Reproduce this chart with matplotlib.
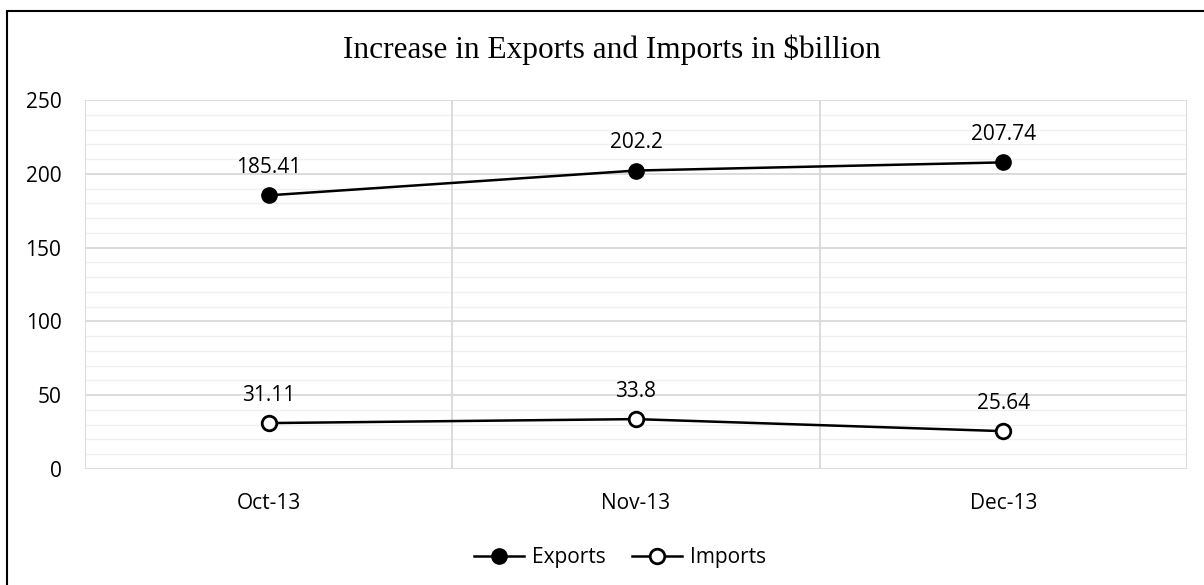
import matplotlib.pyplot as plt
from matplotlib.patches import Rectangle
import numpy as np

months = ['Oct-13', 'Nov-13', 'Dec-13']
exports = [185.41, 202.2, 207.74]
imports = [31.11, 33.8, 25.64]
export_labels = ['185.41', '202.2', '207.74']
import_labels = ['31.11', '33.8', '25.64']

sans = ['Open Sans', 'DejaVu Sans']

fig = plt.figure(figsize=(12.04, 5.85), dpi=100)
ax = fig.add_axes([85 / 1204, 116 / 585, 1102 / 1204, 369 / 585])

# outer chart border (cropped on the right and bottom)
fig.patches.append(Rectangle((7 / 1204, -0.05), 1.2, 1 - 11 / 585 + 0.05,
                             transform=fig.transFigure, fill=False,
                             edgecolor='black', linewidth=1.5))

x = np.arange(len(months))
ax.set_xlim(-0.5, len(months) - 0.5)
ax.set_ylim(0, 250)

# gridlines
for v in np.arange(0, 251, 10):
    major = v % 50 == 0
    ax.axhline(v, color='#D9D9D9' if major else '#F0F0F0',
               linewidth=1.3 if major else 1.0, zorder=0)
for b in np.arange(-0.5, len(months), 1.0):
    ax.axvline(b, color='#D9D9D9', linewidth=1.3, zorder=0)

for s in ax.spines.values():
    s.set_visible(False)

ax.plot(x, exports, color='black', linewidth=1.8, marker='o', markersize=11,
        markerfacecolor='black', markeredgecolor='black', label='Exports', zorder=3)
ax.plot(x, imports, color='black', linewidth=1.8, marker='o', markersize=10.5,
        markerfacecolor='white', markeredgecolor='black', markeredgewidth=2,
        label='Imports', zorder=3)

for xi, v, t in zip(x, exports, export_labels):
    ax.annotate(t, (xi, v), xytext=(0, 20), textcoords='offset points',
                ha='center', va='center', fontsize=15, family=sans)
for xi, v, t in zip(x, imports, import_labels):
    ax.annotate(t, (xi, v), xytext=(0, 20), textcoords='offset points',
                ha='center', va='center', fontsize=15, family=sans)

ax.set_xticks(x)
ax.set_xticklabels(months, fontsize=15, family=sans)
ax.set_yticks(np.arange(0, 251, 50))
ax.set_yticklabels([str(v) for v in range(0, 251, 50)], fontsize=15, family=sans)
ax.tick_params(axis='both', length=0)
ax.tick_params(axis='x', pad=17)
ax.tick_params(axis='y', pad=17)

fig.text(0.508, 1 - 50 / 585, 'Increase in Exports and Imports in $billion',
         ha='center', va='center', fontsize=22.5, family='Liberation Serif')

fig.legend(loc='center', bbox_to_anchor=(620 / 1204, 1 - 558 / 585), ncol=2,
           frameon=False, prop={'family': sans, 'size': 15}, handlelength=2.4,
           columnspacing=1.3, handletextpad=0.35)

fig.savefig('out.png', dpi=100)
